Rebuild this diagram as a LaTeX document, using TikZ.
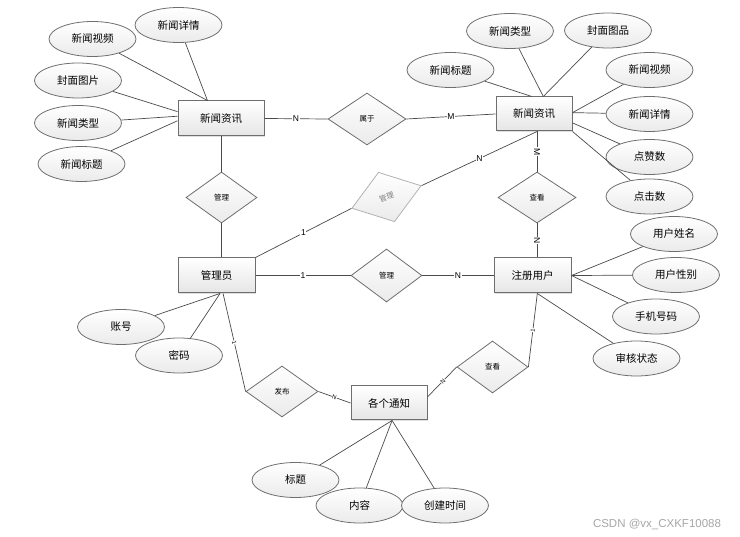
\documentclass[tikz,border=0pt]{standalone}
\usepackage{fontspec}
\setmainfont{Liberation Sans}
\newfontfamily\cjk{Noto Sans CJK SC}
\usetikzlibrary{shapes.geometric,shadows}
\definecolor{lnc}{HTML}{4A4A4A}
\definecolor{bdc}{HTML}{6E6E6E}
\tikzset{
  ent/.style={draw=bdc, line width=1pt, rectangle, top color=white, bottom color=black!10,
    minimum width=77pt, minimum height=35pt, inner sep=0pt,
    font=\cjk\fontsize{10.5}{12}\selectfont,
    drop shadow={shadow xshift=1pt, shadow yshift=-1pt, opacity=0.25}},
  attr/.style={draw=bdc, line width=0.8pt, ellipse, top color=white, bottom color=black!8,
    minimum width=87pt, minimum height=35pt, inner sep=0pt,
    font=\cjk\fontsize{10.5}{12}\selectfont},
  rel/.style={draw=bdc, line width=0.8pt, diamond, top color=white, bottom color=black!8,
    minimum width=72pt, minimum height=52pt, inner sep=0pt,
    font=\cjk\fontsize{7.5}{9}\selectfont},
  grel/.style={rel, draw=black!30, text=black!50},
  conn/.style={draw=lnc, line width=0.7pt},
  card/.style={fill=white, inner sep=0.6pt, font=\fontsize{8.5}{9}\selectfont},
  scard/.style={fill=white, inner sep=0.3pt, font=\fontsize{6}{6}\selectfont, sloped},
}
\begin{document}
\begin{tikzpicture}[x=1pt,y=-1pt]
\useasboundingbox (0,0) rectangle (740,537);
% entities
\node[ent, minimum width=86pt] (E1) at (221,118.5) {新闻资讯};
\node[ent, minimum width=76pt, minimum height=34pt] (E2) at (534,114) {新闻资讯};
\node[ent] (E3) at (532.5,275.5) {注册用户};
\node[ent] (E4) at (216.5,275.5) {管理员};
\node[ent, minimum width=76pt, minimum height=34pt] (E5) at (389,403) {各个通知};
% attributes
\node[attr] (a1) at (178.5,25) {新闻详情};
\node[attr] (a2) at (92.5,39) {新闻视频};
\node[attr] (a3) at (78,80.5) {封面图片};
\node[attr] (a4) at (78,123) {新闻类型};
\node[attr] (a5) at (81.5,164) {新闻标题};
\node[attr] (b1) at (510,31) {新闻类型};
\node[attr] (b2) at (608,30.5) {封面图品};
\node[attr] (b3) at (450.5,70) {新闻标题};
\node[attr] (b4) at (649.5,70) {新闻视频};
\node[attr] (b5) at (649.5,114) {新闻详情};
\node[attr] (b6) at (649.5,157) {点赞数};
\node[attr] (b7) at (649.5,196.5) {点击数};
\node[attr] (c1) at (674,234) {用户姓名};
\node[attr] (c2) at (676,275) {用户性别};
\node[attr] (c3) at (656,316.5) {手机号码};
\node[attr] (c4) at (636.5,358.5) {审核状态};
\node[attr] (d1) at (121,327) {账号};
\node[attr] (d2) at (179,355.5) {密码};
\node[attr] (f1) at (295.5,480) {标题};
\node[attr] (f2) at (359.5,505.5) {内容};
\node[attr] (f3) at (445,505.5) {创建时间};
% relationships
\node[rel, minimum width=78pt] (r1) at (367,119) {属于};
\node[rel, minimum width=71pt, minimum height=51pt] (r2) at (221.5,197.5) {管理};
\node[grel, minimum width=73pt, rotate=18] (r3) at (386.5,197) {管理};
\node[rel, minimum width=78pt, minimum height=51pt] (r4) at (537,197.5) {查看};
\node[rel, minimum width=71pt, minimum height=53pt] (r5) at (386.5,275.5) {管理};
\node[rel, minimum width=71pt] (r6) at (492.5,367) {查看};
\node[rel, minimum width=72pt, minimum height=51pt] (r7) at (282,391.5) {发布};
% attribute connectors
\draw[conn] (a1) -- (E1.127.6);
\draw[conn] (a2) -- (E1.127.6);
\draw[conn] (a3) -- (E1.171);
\draw[conn] (a4) -- (E1.177);
\draw[conn] (a5) -- (E1.183);
\draw[conn] (b3) -- (E2.97);
\draw[conn] (b1) -- (E2.62);
\draw[conn] (b2) -- (E2.62);
\draw[conn] (b4) -- (E2.2);
\draw[conn] (b5) -- (E2.2);
\draw[conn] (b6) -- (E2.-13);
\draw[conn] (b7) -- (E2.south east);
\draw[conn] (c1) -- (E3.east);
\draw[conn] (c2) -- (E3.east);
\draw[conn] (c3) -- (E3.east);
\draw[conn] (c4) -- (E3.-75);
\draw[conn] (d1) -- (E4.-79);
\draw[conn] (d2) -- (E4.-79);
\draw[conn] (f1) -- (E5.-80);
\draw[conn] (f2) -- (E5.-80);
\draw[conn] (f3) -- (E5.-80);
% relationship connectors
\draw[conn] (E1.east) -- node[card]{N} (r1.west);
\draw[conn] (r1.east) -- node[card]{M} (E2.west);
\draw[conn] (r2.north) -- (r2.north |- E1.south);
\draw[conn] (r2.south) -- (r2.south |- E4.north);
\draw[conn] (E4.north east) -- node[card]{1} (r3.west);
\draw[conn] (r3.east) -- node[card]{N} (E2.-80);
\draw[conn] (r4.north |- E2.south) -- node[card, rotate=-90]{M} (r4.north);
\draw[conn] (r4.south) -- node[card, rotate=-90]{N} (r4.south |- E3.north);
\draw[conn] (E4.east) -- node[card]{1} (r5.west);
\draw[conn] (r5.east) -- node[card]{N} (E3.west);
\draw[conn] (E3.-75) -- node[scard]{1} (r6.east);
\draw[conn] (r6.west) -- node[scard, pos=0.47]{N} (E5.9);
\draw[conn] (E4.-70) -- node[scard]{1} (r7.west);
\draw[conn] (r7.east) -- node[scard]{N} (E5.west);
% watermark
\node[text=black!35, font=\fontsize{11.5}{12}\selectfont, inner sep=0pt] (wm) at (657,524) {CSDN @vx\_CXKF10088};
\end{tikzpicture}
\end{document}
